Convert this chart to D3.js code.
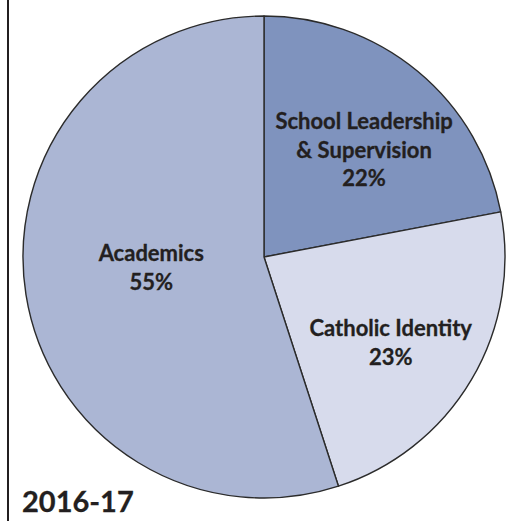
<!DOCTYPE html>
<html><head><meta charset="utf-8">
<script src="https://cdn.jsdelivr.net/npm/d3@7"></script>
<style>body{margin:0;background:#fff}svg{display:block}</style>
</head><body>
<svg id="c" width="508" height="521"></svg>
<script>
const categories = ["School Leadership & Supervision", "Catholic Identity", "Academics"];
const labelLines = [["School Leadership", "& Supervision"], ["Catholic Identity"], ["Academics"]];
const values = [22, 23, 55];
const colors = ["#7f93be", "#d7dbec", "#abb6d4"];
const title = "2016-17";

const W = 508, H = 521, cx = 264, cy = 257, R = 241;
const labelRadius = [0.608, 0.635, 0.47];
const angleShift = 3.5 * Math.PI / 180;
const fontFam = "Lato, 'Open Sans', sans-serif";
const fs = 22, lh = 28.5;

const svg = d3.select("#c");
svg.append("line").attr("x1", 8).attr("x2", 8).attr("y1", 0).attr("y2", H)
  .attr("stroke", "#231f20").attr("stroke-width", 2);

const pie = d3.pie().sort(null).value(d => d)(values);
const arc = d3.arc().innerRadius(0).outerRadius(R);
const g = svg.append("g").attr("transform", `translate(${cx},${cy})`);
g.selectAll("path").data(pie).join("path")
  .attr("d", arc).attr("fill", (d, i) => colors[i])
  .attr("stroke", "#2b2b2b").attr("stroke-width", 1.4).attr("stroke-linejoin", "round");

const lab = g.selectAll("text.l").data(pie).join("text").attr("class", "l")
  .attr("font-family", fontFam).attr("font-weight", 700).attr("font-size", fs)
  .attr("fill", "#231f20").attr("text-anchor", "middle")
  .attr("stroke", "#231f20").attr("stroke-width", 0.3);
lab.each(function(d, i) {
  const a = (d.startAngle + d.endAngle) / 2 + angleShift;
  const r = labelRadius[i] * R;
  const x = Math.sin(a) * r, y = -Math.cos(a) * r;
  const lines = labelLines[i].concat([values[i] + "%"]);
  const n = lines.length;
  const y0 = y + 7.5 - (n - 1) * lh / 2;
  const t = d3.select(this);
  lines.forEach((s, k) => t.append("tspan").attr("x", x).attr("y", y0 + k * lh).text(s));
});

svg.append("text").attr("x", 22).attr("y", 512)
  .attr("font-family", fontFam).attr("font-weight", 700).attr("font-size", 29)
  .attr("fill", "#231f20").attr("stroke", "#231f20").attr("stroke-width", 0.3).text(title);
</script>
</body></html>
